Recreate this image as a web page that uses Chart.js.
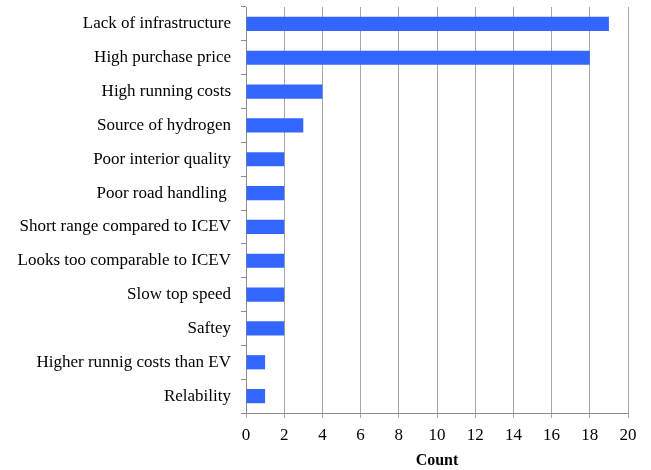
<!DOCTYPE html>
<html>
<head>
<meta charset="utf-8">
<script src="https://cdn.jsdelivr.net/npm/chart.js@4"></script>
<style>
  html, body { margin: 0; padding: 0; background: #fff; }
  #wrap { width: 651px; height: 470px; }
</style>
</head>
<body>
<div id="wrap"><canvas id="chart"></canvas></div>
<script>
const categories = [
  "Lack of infrastructure",
  "High purchase price",
  "High running costs",
  "Source of hydrogen",
  "Poor interior quality",
  "Poor road handling ",
  "Short range compared to ICEV",
  "Looks too comparable to ICEV",
  "Slow top speed",
  "Saftey",
  "Higher runnig costs than EV",
  "Relability"
];
const counts = [19, 18, 4, 3, 2, 2, 2, 2, 2, 2, 1, 1];
const xTicks = [0, 2, 4, 6, 8, 10, 12, 14, 16, 18, 20];

const serif = "'Liberation Serif', 'DejaVu Serif', serif";

const ctx = document.getElementById('chart').getContext('2d');
new Chart(ctx, {
  type: 'bar',
  data: {
    labels: categories,
    datasets: [{
      label: 'Count',
      data: counts,
      backgroundColor: '#3366ff',
      borderWidth: 0,
      categoryPercentage: 1,
      barPercentage: 0.42
    }]
  },
  options: {
    indexAxis: 'y',
    responsive: true,
    maintainAspectRatio: false,
    animation: false,
    layout: { padding: { top: 7, right: 23, left: 0, bottom: 0 } },
    plugins: {
      legend: { display: false },
      tooltip: { enabled: false }
    },
    scales: {
      x: {
        min: 0,
        max: 20,
        afterBuildTicks: (axis) => { axis.ticks = xTicks.map(v => ({ value: v })); },
        afterFit: (axis) => { axis.height = 57; },
        grid: {
          color: '#a6a6a6',
          lineWidth: 1,
          tickLength: 5,
          drawTicks: true
        },
        border: { color: '#8c8c8c' },
        ticks: {
          color: '#000',
          padding: 7,
          font: { family: serif, size: 17 }
        },
        title: {
          display: true,
          text: 'Count',
          color: '#000',
          padding: { top: 0, bottom: 0 },
          font: { family: serif, size: 16, weight: 'bold' }
        }
      },
      y: {
        afterFit: (axis) => {
          axis.width = 246;
          axis.paddingTop = 0;
          axis.paddingBottom = 0;
        },
        grid: {
          offset: true,
          drawOnChartArea: false,
          color: '#8c8c8c',
          tickLength: 5
        },
        border: { color: '#8c8c8c' },
        ticks: {
          color: '#000',
          padding: 10,
          font: { family: serif, size: 17 }
        }
      }
    }
  }
});
</script>
</body>
</html>
